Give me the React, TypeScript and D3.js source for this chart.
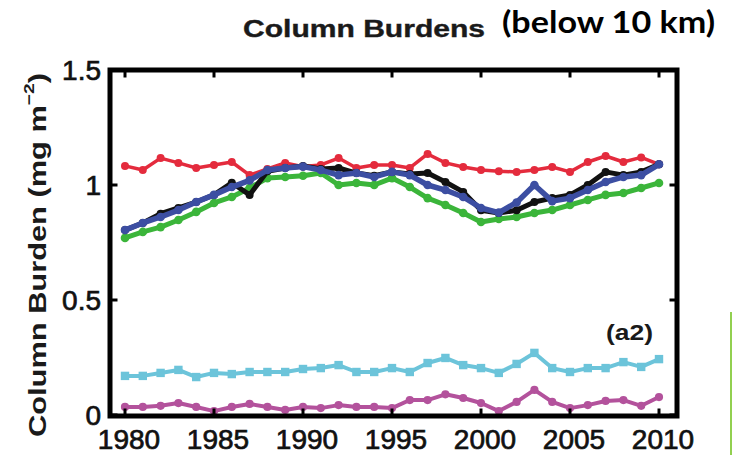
import React from "react";
import * as d3 from "d3";

// Annual column burdens, 1980–2010 (mg m^-2)
const years: number[] = d3.range(1980, 2011);

const redSeries: number[] = [
  1.083, 1.065, 1.117, 1.096, 1.074, 1.087, 1.1, 1.043, 1.07, 1.096, 1.08,
  1.087, 1.117, 1.074, 1.087, 1.087, 1.074, 1.135, 1.096, 1.078, 1.065,
  1.06, 1.057, 1.065, 1.078, 1.057, 1.1, 1.126, 1.1, 1.12, 1.09,
];

const blackSeries: number[] = [
  0.804, 0.835, 0.875, 0.9, 0.926, 0.957, 1.01, 0.957, 1.06, 1.074, 1.083,
  1.07, 1.074, 1.052, 1.04, 1.057, 1.048, 1.052, 1.013, 0.97, 0.89,
  0.878, 0.89, 0.926, 0.943, 0.957, 1.0, 1.057, 1.043, 1.057, 1.09,
];

const blueSeries: number[] = [
  0.804, 0.835, 0.861, 0.891, 0.926, 0.957, 0.991, 1.02, 1.065, 1.074, 1.08,
  1.065, 1.043, 1.052, 1.035, 1.057, 1.043, 1.0, 0.978, 0.948, 0.9,
  0.88, 0.924, 1.0, 0.93, 0.943, 0.978, 1.013, 1.035, 1.043, 1.09,
];

const greenSeries: number[] = [
  0.77, 0.796, 0.817, 0.848, 0.883, 0.922, 0.948, 0.987, 1.03, 1.035, 1.04,
  1.052, 1.0, 1.009, 1.0, 1.03, 0.991, 0.943, 0.913, 0.878, 0.839,
  0.852, 0.861, 0.878, 0.891, 0.913, 0.935, 0.957, 0.965, 0.987, 1.009,
];

const cyanSeries: number[] = [
  0.17, 0.17, 0.183, 0.196, 0.165, 0.183, 0.178, 0.187, 0.187, 0.187, 0.2,
  0.204, 0.217, 0.187, 0.187, 0.204, 0.187, 0.226, 0.248, 0.217, 0.204,
  0.183, 0.222, 0.27, 0.204, 0.187, 0.204, 0.204, 0.23, 0.209, 0.243,
];

const magentaSeries: number[] = [
  0.035, 0.035, 0.04, 0.052, 0.035, 0.017, 0.035, 0.048, 0.035, 0.022, 0.035,
  0.03, 0.043, 0.035, 0.035, 0.03, 0.065, 0.065, 0.09, 0.074, 0.052,
  0.017, 0.057, 0.109, 0.057, 0.03, 0.043, 0.061, 0.065, 0.04, 0.078,
];

const xTickValues: number[] = [1980, 1985, 1990, 1995, 2000, 2005, 2010];
const yTickValues: number[] = [0, 0.5, 1, 1.5];

type Series = {
  name: string;
  values: number[];
  color: string;
  width: number;
  marker: "circle" | "square";
  size: number;
};

const seriesList: Series[] = [
  { name: "red", values: redSeries, color: "#e42b3d", width: 3.5, marker: "circle", size: 4 },
  { name: "green", values: greenSeries, color: "#3bb53a", width: 5, marker: "circle", size: 4.3 },
  { name: "black", values: blackSeries, color: "#111111", width: 5, marker: "circle", size: 4 },
  { name: "blue", values: blueSeries, color: "#3c4ea2", width: 5.5, marker: "circle", size: 4.3 },
  { name: "cyan", values: cyanSeries, color: "#6cc4da", width: 4, marker: "square", size: 4.2 },
  { name: "magenta", values: magentaSeries, color: "#b3529c", width: 4, marker: "circle", size: 4.1 },
];

const W = 733;
const H = 455;
const frame = { left: 110, right: 677, top: 70, bottom: 416 };

export default function App() {
  const x = d3.scaleLinear().domain([1980, 2010]).range([125, 659]);
  const y = d3.scaleLinear().domain([0, 1.5]).range([415, 70]);

  const line = d3
    .line<number>()
    .x((_, i) => x(years[i]))
    .y((d) => y(d));

  const tickFont = "'Liberation Sans', Arial, sans-serif";
  const tickLen = 5;

  return (
    <svg
      width={W}
      height={H}
      style={{ position: "absolute", left: 0, top: 0, display: "block", background: "#fff" }}
    >
      {/* Title */}
      <text
        x={243}
        y={37}
        fontFamily={tickFont}
        fontWeight="bold"
        fontSize={24}
        fill="#1a1a1a"
        stroke="#1a1a1a"
        strokeWidth={0.4}
        textLength={242}
        lengthAdjust="spacingAndGlyphs"
      >
        Column Burdens
      </text>
      <text
        x={502}
        y={33}
        fontFamily="Lato, 'Open Sans', sans-serif"
        fontWeight="bold"
        fontSize={30}
        fill="#000"
        textLength={213}
        lengthAdjust="spacingAndGlyphs"
      >
        (below 10 km)
      </text>

      {/* Y axis label */}
      <text
        transform={`translate(37,255) rotate(-90)`}
        textAnchor="middle"
        dominantBaseline="central"
        fontFamily={tickFont}
        fontWeight="bold"
        fontSize={24}
        fill="#1a1a1a"
        textLength={364}
        lengthAdjust="spacingAndGlyphs"
      >
        Column Burden (mg m
        <tspan fontSize={15} dy={-9}>
          −2
        </tspan>
        <tspan dy={9}>)</tspan>
      </text>

      {/* Series lines and markers */}
      {seriesList.map((s) => (
        <g key={s.name}>
          <path
            d={line(s.values) ?? ""}
            fill="none"
            stroke={s.color}
            strokeWidth={s.width}
            strokeLinejoin="round"
          />
          {s.values.map((v, i) =>
            s.marker === "circle" ? (
              <circle key={i} cx={x(years[i])} cy={y(v)} r={s.size} fill={s.color} />
            ) : (
              <rect
                key={i}
                x={x(years[i]) - s.size}
                y={y(v) - s.size}
                width={s.size * 2}
                height={s.size * 2}
                fill={s.color}
              />
            )
          )}
        </g>
      ))}

      {/* Panel tag */}
      <text
        x={606}
        y={340}
        fontFamily={tickFont}
        fontWeight="bold"
        fontSize={22}
        fill="#1a1a1a"
        textLength={47}
        lengthAdjust="spacingAndGlyphs"
      >
        (a2)
      </text>

      {/* Inner tick marks */}
      {xTickValues.map((t) => (
        <g key={`xt${t}`}>
          <line x1={x(t)} x2={x(t)} y1={frame.bottom} y2={frame.bottom - tickLen - 2.5} stroke="#000" strokeWidth={3} />
          <line x1={x(t)} x2={x(t)} y1={frame.top} y2={frame.top + tickLen + 2.5} stroke="#000" strokeWidth={3} />
        </g>
      ))}
      {yTickValues.map((t) => (
        <g key={`yt${t}`}>
          <line x1={frame.left} x2={frame.left + tickLen + 2.5} y1={y(t)} y2={y(t)} stroke="#000" strokeWidth={3} />
          <line x1={frame.right} x2={frame.right - tickLen - 2.5} y1={y(t)} y2={y(t)} stroke="#000" strokeWidth={3} />
        </g>
      ))}

      {/* Box frame */}
      <rect
        x={frame.left}
        y={frame.top}
        width={frame.right - frame.left}
        height={frame.bottom - frame.top}
        fill="none"
        stroke="#000"
        strokeWidth={5}
      />

      {/* X tick labels */}
      {xTickValues.map((t) => (
        <text
          key={`xl${t}`}
          x={x(t) + 4}
          y={449}
          textAnchor="middle"
          fontFamily={tickFont}
          fontSize={28}
          fill="#111"
          stroke="#111"
          strokeWidth={0.7}
        >
          {t}
        </text>
      ))}

      {/* Y tick labels */}
      {yTickValues.map((t) => (
        <text
          key={`yl${t}`}
          x={101}
          y={y(t)}
          textAnchor="end"
          dominantBaseline="central"
          fontFamily={tickFont}
          fontSize={28}
          fill="#111"
          stroke="#111"
          strokeWidth={0.7}
        >
          {t === 0 || t === 1 ? d3.format("d")(t) : d3.format(".1f")(t)}
        </text>
      ))}

      {/* Side rule */}
      <line x1={731} x2={731} y1={312} y2={H} stroke="#92d050" strokeWidth={2} />
    </svg>
  );
}
